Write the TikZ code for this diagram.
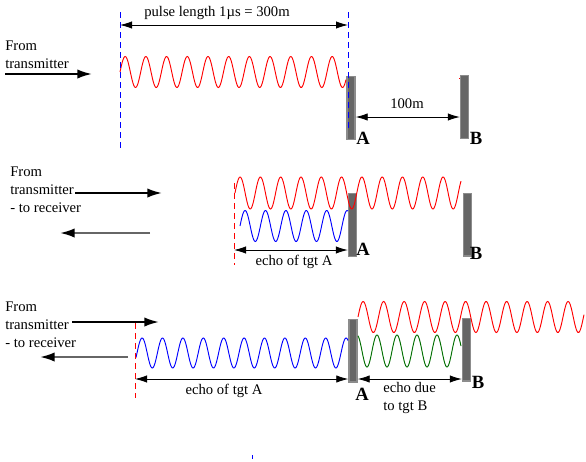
\documentclass[tikz,border=0pt]{standalone}
\usepackage{fontspec}
\setmainfont{Liberation Serif}
\usepackage{tikz}
\usetikzlibrary{calc}
\usetikzlibrary{arrows.meta}
\usepackage{xcolor}
\definecolor{echogreen}{RGB}{0,110,0}

\begin{document}
\begin{tikzpicture}[
		x=0.75pt, y=-0.75pt,
		tgt/.style = {rectangle, draw=black!45, fill=black!60, line width=1pt, minimum width=6pt, minimum height=47pt, inner sep=0},
		lbl/.style = {font=\fontsize{11}{13}\selectfont, inner sep=0},
		txt/.style = {font=\fontsize{11}{13.4}\selectfont, align=left, anchor=north west, inner sep=0},
		ab/.style = {font=\bfseries\fontsize{14}{14}\selectfont, inner sep=0},
		dim/.style = {{Latex[length=9pt,width=5.5pt]}-{Latex[length=9pt,width=5.5pt]}, line width=0.6pt},
		tx/.style = {-{Latex[length=11pt,width=7pt]}, line width=1.5pt},
		rx/.style = {-{Latex[length=11pt,width=7pt,black]}, line width=1.5pt, draw=black!60},
		dsh/.style = {dash pattern=on 4.5pt off 3pt, line width=0.7pt},
		w/.style = {line width=0.7pt}
		]
		\useasboundingbox (0,0) rectangle (586,461);
		
		%Targets
		\node[tgt]	(A1)	at	(351,108)	{};
		\node[tgt]	(B1)	at	(464.5,107)	{};
		\node[tgt]	(A2)	at	(352.5,225)	{};
		\node[tgt]	(B2)	at	(467.5,224.5)	{};
		\node[tgt]	(A3)	at	(353,350.5)	{};
		\node[tgt]	(B3)	at	(466.5,349.5)	{};
		
		%Labels
		\node[txt]	(from1)	at	(5,41)	{From\\transmitter};
		\node[txt]	(from2)	at	(10,167)	{From\\transmitter\\- to receiver};
		\node[txt]	(from3)	at	(5,302)	{From\\transmitter\\- to receiver};
		\node[lbl]	(pulse)	at	(217,12.5)	{pulse length 1µs = 300m};
		\node[lbl]	(d100)	at	(407,104)	{100m};
		\node[lbl]	(echoA2)	at	(294,262)	{echo of tgt A};
		\node[lbl]	(echoA3)	at	(224,391)	{echo of tgt A};
		\node[txt]	(echoB3)	at	(383,382)	{echo due\\to tgt B};
		\node[ab]	(a1)	at	(363,138)	{A};
		\node[ab]	(b1)	at	(476,138)	{B};
		\node[ab]	(a2)	at	(363,249)	{A};
		\node[ab]	(b2)	at	(476,253)	{B};
		\node[ab]	(a3)	at	(362,394)	{A};
		\node[ab]	(b3)	at	(478,382)	{B};
		
		%Points
		\coordinate	(s1)	at	(5,74);
		\coordinate	(e1)	at	(92,74);
		\coordinate	(s2)	at	(75,193);
		\coordinate	(e2)	at	(162,193);
		\coordinate	(r2)	at	(150,233);
		\coordinate	(q2)	at	(60,233);
		\coordinate	(s3)	at	(72,322);
		\coordinate	(e3)	at	(159,322);
		\coordinate	(r3)	at	(128,357);
		\coordinate	(q3)	at	(40,357);
		\coordinate	(u1)	at	(120,12);
		\coordinate	(v1)	at	(120,152);
		\coordinate	(u2)	at	(348,12);
		\coordinate	(v2)	at	(348,130);
		\coordinate	(u3)	at	(234,183);
		\coordinate	(v3)	at	(234,265);
		\coordinate	(u4)	at	(135,323);
		\coordinate	(v4)	at	(135,398);
		
		%Waves
		\draw[w, red]	plot[domain=120:346, samples=300]	(\x, {72 - 15.5*sin((\x-120)/20.7*360)});
		\draw[w, red]	plot[domain=235:461, samples=300]	(\x, {193 - 16*sin((\x-235)/20.3*360)});
		\draw[w, blue]	plot[domain=240:348, samples=150]	(\x, {226 - 15.5*sin((\x-240)/20.4*360)});
		\draw[w, blue]	plot[domain=136:348, samples=300]	(\x, {353 - 15*sin((\x-137)/20.4*360)});
		\draw[w, red]	plot[domain=358:584, samples=300]	(\x, {317 - 15.5*sin((\x-358)/20.5*360)});
		\draw[w, echogreen]	plot[domain=358:461, samples=150]	(\x, {351 - 16*cos((\x-357)/20*360)});
		
		%Lines
		\draw[dsh, blue]	(u1)	--	(v1);
		\draw[dsh, blue]	(u2)	--	(v2);
		\draw[dsh, red]	(u3)	--	(v3);
		\draw[dsh, red]	(u4)	--	(v4);
		\draw[tx]	(s1)	--	(e1);
		\draw[tx]	(s2)	--	(e2);
		\draw[rx]	(r2)	--	(q2);
		\draw[tx]	(s3)	--	(e3);
		\draw[rx]	(r3)	--	(q3);
		\draw[dim]	(120,25)	--	(348,25);
		\draw[dim]	(A1.east |- 0,117)	--	(B1.west |- 0,117);
		\draw[dim]	(u3 |- 0,250)	--	(A2.west |- 0,250);
		\draw[dim]	(u4 |- 0,379)	--	(A3.west |- 0,379);
		\draw[dim]	(A3.east |- 0,379)	--	(B3.west |- 0,379);
		
		%Stray marks
		\fill[red]	(459,77.5)	rectangle	(460,78.5);
		\draw[blue, line width=0.75pt]	(252,455)	--	(252,459);
	\end{tikzpicture}
\end{document}
